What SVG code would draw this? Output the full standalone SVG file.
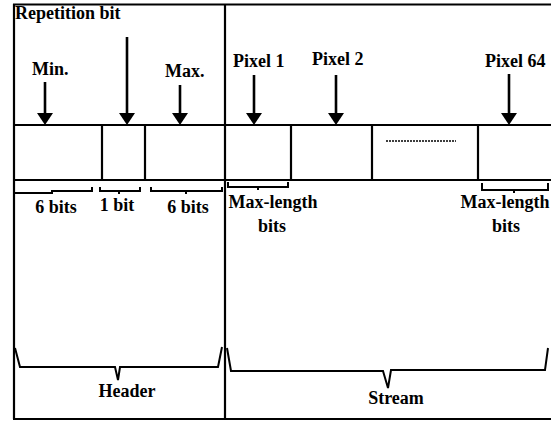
<svg xmlns="http://www.w3.org/2000/svg" width="551" height="421" viewBox="0 0 551 421">
<style>
.ln{stroke:#000;stroke-width:2.2;fill:none}
.thin{stroke:#000;stroke-width:2;fill:none}
.br{stroke:#000;stroke-width:2;fill:none;stroke-linejoin:miter}
.arr{stroke:#000;stroke-width:2.6;fill:none}
text{font-family:'Liberation Serif','DejaVu Serif',serif;font-weight:700;font-size:18px;fill:#000}
.m{text-anchor:middle}
</style>
<defs>
<marker id="ah" viewBox="0 0 12 16" refX="2" refY="8" markerWidth="12" markerHeight="16" markerUnits="userSpaceOnUse" orient="auto">
<path d="M0,0 L12,8 L0,16 z" fill="#000"/>
</marker>
</defs>
<rect width="551" height="421" fill="#fff"/>
<g id="frame">
<line class="ln" x1="13" y1="4.5" x2="551" y2="4.5"/>
<line class="ln" x1="14" y1="4" x2="14" y2="419"/>
<line class="ln" x1="225" y1="4" x2="225" y2="419"/>
<line class="thin" x1="13" y1="419" x2="551" y2="419"/>
<line class="ln" x1="13" y1="125" x2="551" y2="125"/>
<line class="ln" x1="13" y1="180" x2="551" y2="180"/>
</g>
<g id="header">
<text x="15" y="19">Repetition bit</text>
<g id="cell-min"><line class="ln" x1="102" y1="125" x2="102" y2="180"/></g>
<g id="cell-rep"><line class="ln" x1="145" y1="125" x2="145" y2="180"/></g>
<text x="32" y="75">Min.</text>
<text x="165" y="77">Max.</text>
<text class="m" x="56" y="213">6 bits</text>
<text class="m" x="117" y="211">1 bit</text>
<text class="m" x="188" y="213">6 bits</text>
<text class="m" x="127" y="397">Header</text>
</g>
<g id="stream">
<g id="cell-p1"><line class="ln" x1="291" y1="125" x2="291" y2="180"/></g>
<g id="cell-p2"><line class="ln" x1="372" y1="125" x2="372" y2="180"/></g>
<g id="cell-p64"><line class="ln" x1="478" y1="125" x2="478" y2="180"/></g>
<line x1="386" y1="141" x2="456" y2="141" stroke="#000" stroke-width="1.6" stroke-dasharray="2,1"/>
<text x="233" y="67">Pixel 1</text>
<text x="312" y="65">Pixel 2</text>
<text x="485" y="67">Pixel 64</text>
<text class="m" x="273" y="208">Max-length</text>
<text class="m" x="272" y="232">bits</text>
<text class="m" x="505" y="208">Max-length</text>
<text class="m" x="506" y="232">bits</text>
<text class="m" x="396" y="404">Stream</text>
</g>
<g id="connectors">
<line class="arr" x1="45" y1="82" x2="45" y2="115" marker-end="url(#ah)"/>
<line class="arr" x1="127" y1="37" x2="127" y2="115" marker-end="url(#ah)"/>
<line class="arr" x1="180" y1="85" x2="180" y2="115" marker-end="url(#ah)"/>
<line class="arr" x1="254" y1="75" x2="254" y2="115" marker-end="url(#ah)"/>
<line class="arr" x1="336" y1="75" x2="336" y2="115" marker-end="url(#ah)"/>
<line class="arr" x1="509" y1="74" x2="509" y2="115" marker-end="url(#ah)"/>
<path class="br" d="M15,193 H52 V191 H92 V187"/>
<path class="br" d="M100,187 V191 H119 V194 M119,191 H140 V187"/>
<path class="br" d="M151,187 V191 H186 V194 M186,191 H222 V187"/>
<path class="br" d="M228,182 V187 H258 V190 M258,187 H288 V182"/>
<path class="br" d="M482,183 V190 H514 V193 M514,190 H548 V183"/>
<path class="br" d="M15,348 L20,367 H115 L118,380 L120,367 H218 L222,347"/>
<path class="br" d="M227,348 L231,371 H383 L388,388 L391,370 H545 L548,348"/>
</g>
</svg>
